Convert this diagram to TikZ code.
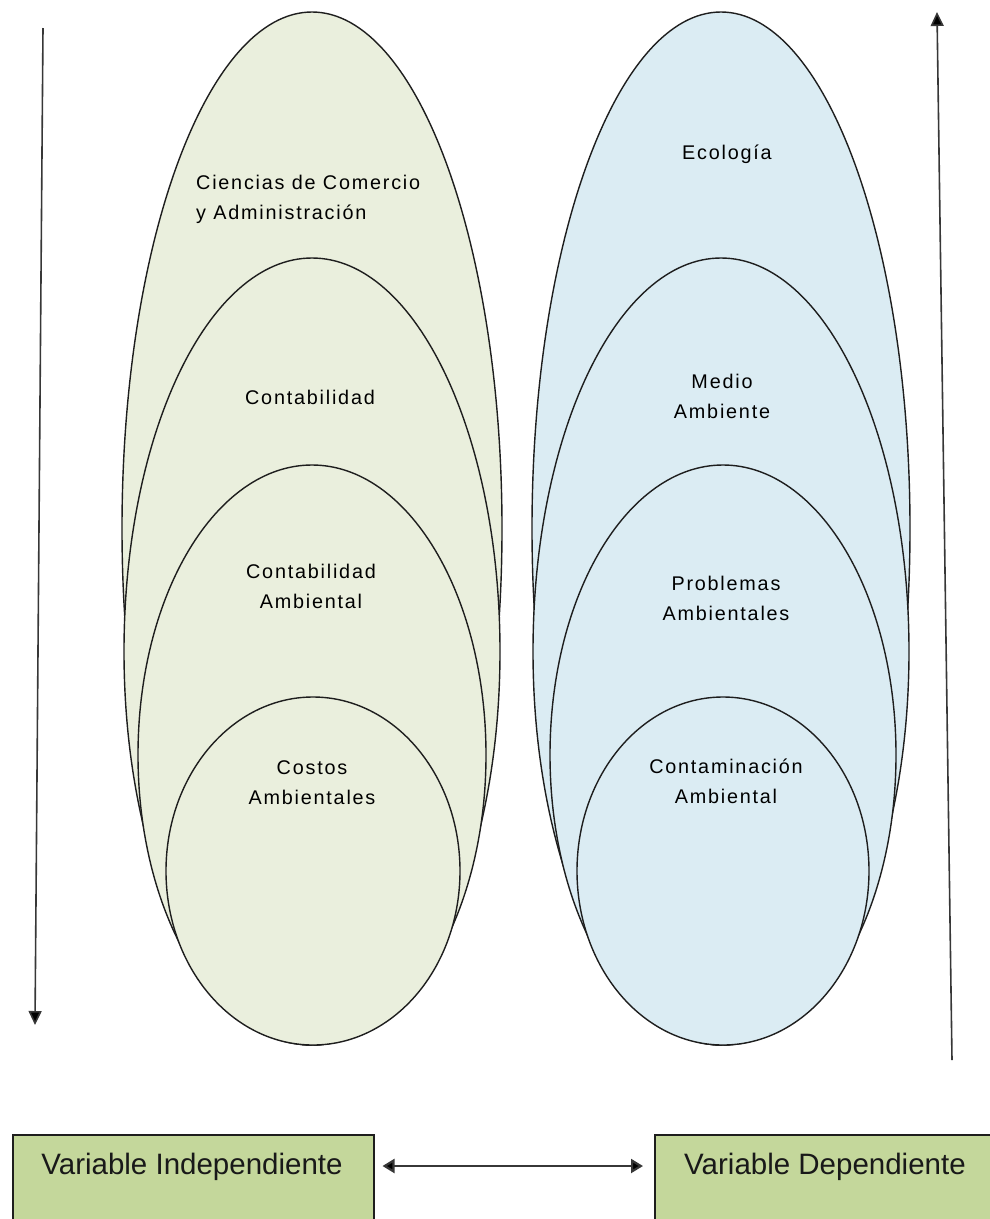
\documentclass[tikz,border=0pt]{standalone}
\usepackage{fontspec}
\setmainfont{Liberation Sans}
\newfontfamily\lblfont[LetterSpace=9]{Liberation Sans}
\usetikzlibrary{shapes.geometric,arrows.meta,calc}
\definecolor{lfill}{RGB}{234,239,221}
\definecolor{rfill}{RGB}{219,236,243}
\definecolor{boxfill}{RGB}{196,215,155}
\definecolor{edge}{RGB}{30,30,30}
\definecolor{arrowline}{RGB}{55,55,55}
\tikzset{
  ell/.style={ellipse, draw=edge, line width=1.4pt, inner sep=0pt},
  lell/.style={ell, fill=lfill},
  rell/.style={ell, fill=rfill},
  lbl/.style={font=\lblfont\fontsize{19.8}{30}\selectfont, align=center, text=black, inner sep=0pt},
  varbox/.style={draw=edge, line width=1.5pt, fill=boxfill, anchor=north west, inner sep=0pt},
  vartext/.style={font=\fontsize{29.5}{34}\selectfont, text=black!90, inner sep=0pt},
  sidearrow/.style={draw=arrowline, line width=1.6pt, -{Triangle[width=13pt,length=14pt,fill=black]}},
  bothway/.style={draw=arrowline, line width=2.2pt, {Triangle[width=14pt,length=12pt,fill=black]}-{Triangle[width=14pt,length=12pt,fill=black]}}
}
\begin{document}
\begin{tikzpicture}[x=1pt,y=-1pt]
\useasboundingbox (0,0) rectangle (990,1219);
\clip (0,0) rectangle (990,1219);
% left ellipses
\node[lell, minimum width=380pt, minimum height=1033pt] (l1) at (312,528.5) {};
\node[lell, minimum width=376pt, minimum height=787pt] (l2) at (312,651.5) {};
\node[lell, minimum width=348pt, minimum height=580pt] (l3) at (312,755) {};
\node[lell, minimum width=294pt, minimum height=348pt] (l4) at (313,871) {};
% right ellipses
\node[rell, minimum width=378pt, minimum height=1033pt] (r1) at (721,528.5) {};
\node[rell, minimum width=376pt, minimum height=787pt] (r2) at (721,651.5) {};
\node[rell, minimum width=346pt, minimum height=580pt] (r3) at (723,755) {};
\node[rell, minimum width=292pt, minimum height=348pt] (r4) at (723,871) {};
% labels
\node[lbl, align=left, anchor=west] (t1) at (196,199) {Ciencias de Comercio\\y Administración};
\node[lbl] (t2) at (310,397) {Contabilidad};
\node[lbl] (t3) at (311,586) {Contabilidad\\Ambiental};
\node[lbl] (t4) at (312,783) {Costos\\Ambientales};
\node[lbl] (s1) at (727,154) {Ecología};
\node[lbl] (s2) at (722,396) {Medio\\Ambiente};
\node[lbl] (s3) at (726,598) {Problemas\\Ambientales};
\node[lbl] (s4) at (726,781) {Contaminación\\Ambiental};
% side arrows
\coordinate (la) at (43,28);
\coordinate (lb) at (35,1025);
\coordinate (ra) at (952,1060);
\coordinate (rb) at (937,12);
\draw[sidearrow] (la) -- (lb);
\draw[sidearrow] (ra) -- (rb);
% bottom boxes
\node[varbox, minimum width=361pt, minimum height=110pt] (vi) at (12,1134) {};
\node[varbox, minimum width=345pt, minimum height=110pt] (vd) at (654,1134) {};
\node[vartext] (vit) at (192,1167) {Variable Independiente};
\node[vartext] (vdt) at (825,1167) {Variable Dependiente};
\draw[bothway] ($(vi.north east)+(8,32)$) -- ($(vd.north west)+(-11,32)$);
\end{tikzpicture}
\end{document}
